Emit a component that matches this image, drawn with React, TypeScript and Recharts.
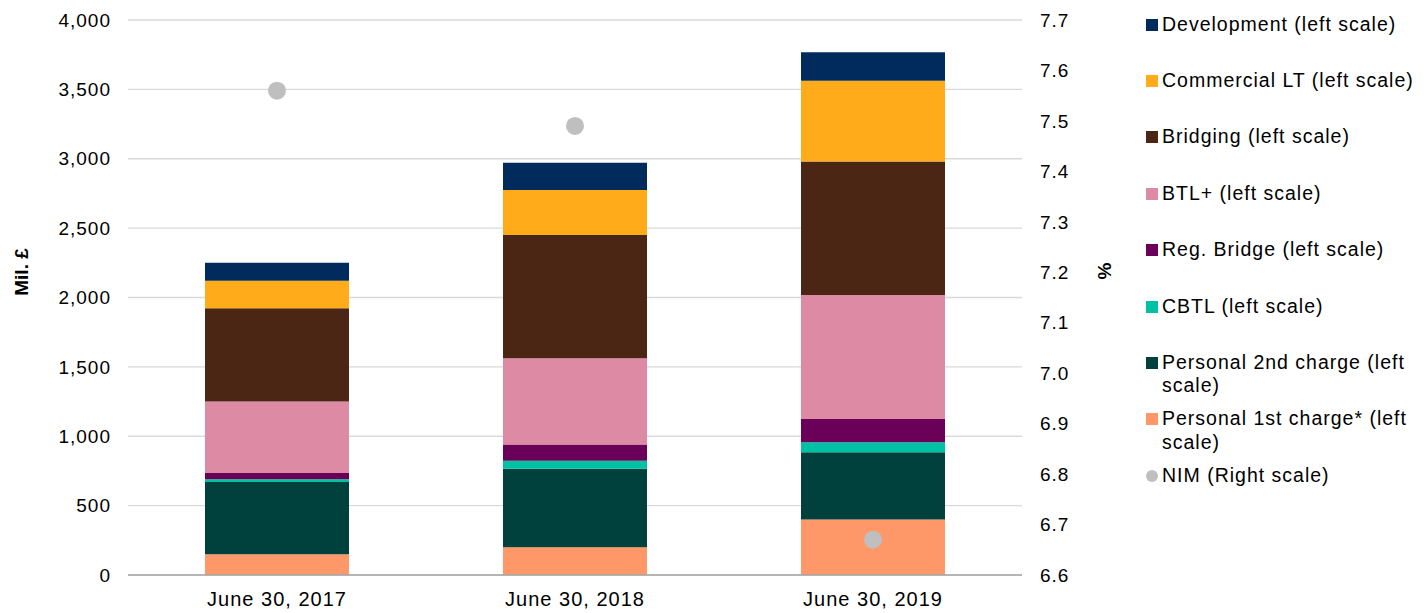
import { Bar, CartesianGrid, ComposedChart, Line, XAxis, YAxis } from 'recharts';

const categories = ['June 30, 2017', 'June 30, 2018', 'June 30, 2019'];
const personal1st = [150, 200, 400];
const personal2nd = [520, 565, 485];
const cbtl = [20, 58, 72];
const regBridge = [45, 117, 167];
const btlPlus = [515, 622, 894];
const bridging = [673, 888, 963];
const commercialLT = [198, 325, 581];
const development = [130, 196, 206];
const nim = [7.56, 7.49, 6.67];

const leftTicks = [0, 500, 1000, 1500, 2000, 2500, 3000, 3500, 4000];
const rightTicks = [6.6, 6.7, 6.8, 6.9, 7.0, 7.1, 7.2, 7.3, 7.4, 7.5, 7.6, 7.7];

const series = [
    { key: 'p1', label: ['Personal 1st charge* (left', 'scale)'], color: '#ff9869', values: personal1st },
    { key: 'p2', label: ['Personal 2nd charge (left', 'scale)'], color: '#00413e', values: personal2nd },
    { key: 'cbtl', label: ['CBTL (left scale)'], color: '#00c1a3', values: cbtl },
    { key: 'reg', label: ['Reg. Bridge (left scale)'], color: '#6a0057', values: regBridge },
    { key: 'btl', label: ['BTL+ (left scale)'], color: '#dd8aa4', values: btlPlus },
    { key: 'bridging', label: ['Bridging (left scale)'], color: '#4b2615', values: bridging },
    { key: 'comm', label: ['Commercial LT (left scale)'], color: '#ffab1a', values: commercialLT },
    { key: 'dev', label: ['Development (left scale)'], color: '#002b5c', values: development },
]

const data = categories.map((c, i) => {
    const row: any = { name: c, nim: nim[i] }
    series.forEach(s => { row[s.key] = s.values[i] })
    return row
})

const font = '"Liberation Sans", Arial, sans-serif'
const tickStyle = { fontSize: 19, fill: '#000', fontFamily: font, letterSpacing: 1 }
const xTickStyle = { fontSize: 20, fill: '#000', fontFamily: font, letterSpacing: 1 }
const axisTitle = (top: number, left: number, text: string) => <div style={{
    position: 'absolute', left, top, transform: 'translate(-50%, -50%) rotate(-90deg)',
    fontSize: 19, fontWeight: 'bold', whiteSpace: 'nowrap', color: '#000'
}}>{text}</div>

export default function App() {
    const legendItems = [...series].reverse().map(s => ({ label: s.label, color: s.color, round: false }))
    legendItems.push({ label: ['NIM (Right scale)'], color: '#bfbfbf', round: true })

    return <div style={{ position: 'absolute', left: 0, top: 0, width: 1428, height: 613, background: '#fff', fontFamily: font }}>
        <ComposedChart width={1428} height={613} data={data} barCategoryGap={0}
            margin={{ top: 20, right: 306, bottom: 0, left: 0 }}>
            <CartesianGrid yAxisId="left" vertical={false} stroke="#d9d9d9" strokeWidth={1.3} />
            <XAxis dataKey="name" height={38} tickLine={false} axisLine={{ stroke: '#a6a6a6', strokeWidth: 1.5 }}
                tick={xTickStyle} tickMargin={11} />
            <YAxis yAxisId="left" width={128} domain={[0, 4000]} ticks={leftTicks} interval={0}
                tickFormatter={v => v.toLocaleString('en-US')} tick={tickStyle} tickLine={false} axisLine={false}
                tickSize={0} tickMargin={17} />
            <YAxis yAxisId="right" orientation="right" width={100} domain={[6.6, 7.7]} ticks={rightTicks} interval={0}
                tickFormatter={v => v.toFixed(1)} tick={tickStyle} tickLine={false} axisLine={false}
                tickSize={0} tickMargin={18} />
            {series.map(s => <Bar key={s.key} yAxisId="left" dataKey={s.key} stackId="a" fill={s.color} barSize={144} isAnimationActive={false} />)}
            <Line yAxisId="right" dataKey="nim" stroke="none" isAnimationActive={false}
                dot={{ r: 9, fill: '#bfbfbf', stroke: 'none' }} activeDot={false} />
        </ComposedChart>
        {axisTitle(272, 22, 'Mil. £')}
        {axisTitle(271, 1105, '%')}
        {legendItems.map((item, i) => <div key={i} style={{
            position: 'absolute', left: 1146, top: 24.5 + 56.4 * i - 12, fontSize: 19.5, lineHeight: '23.5px',
            letterSpacing: 1, color: '#000', whiteSpace: 'nowrap'
        }}>
            <span style={{
                position: 'absolute', left: 0, top: 6, width: 12, height: 12, background: item.color,
                borderRadius: item.round ? '50%' : 0
            }} />
            <div style={{ marginLeft: 16 }}>
                {item.label.map((l, j) => <div key={j}>{l}</div>)}
            </div>
        </div>)}
    </div>
}
